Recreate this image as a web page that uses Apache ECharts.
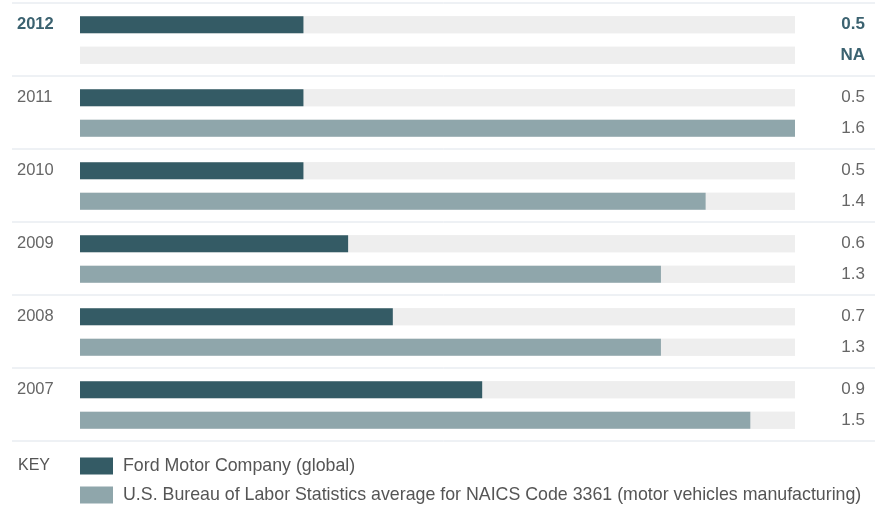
<!DOCTYPE html>
<html><head><meta charset="utf-8">
<script src="https://cdn.jsdelivr.net/npm/echarts@6/dist/echarts.min.js"></script>
<style>html,body{margin:0;padding:0;background:#fff}#c{width:875px;height:512px}</style>
</head><body><div id="c"></div>
<script>
var years = ['2012','2011','2010','2009','2008','2007'];
var ford = [0.5,0.5,0.5,0.6,0.7,0.9];
var bls = [null,1.6,1.4,1.3,1.3,1.5];
var fordName = 'Ford Motor Company (global)';
var blsName = 'U.S. Bureau of Labor Statistics average for NAICS Code 3361 (motor vehicles manufacturing)';

var FONT = 'Liberation Sans, Arial, sans-serif';
var GRAY = '#666666', TEAL = '#3b6270';
var C_FORD = '#345b65', C_BLS = '#8fa6ab', TRACK = '#eeeeee';
var step = 73, top0 = 9.5;

function fmt(v){ return v == null ? 'NA' : v.toFixed(1); }

var grids = [], xAxes = [], yAxes = [], series = [], graphics = [];
years.forEach(function(y, i){
  var hl = i === 0;
  var col = hl ? TEAL : GRAY, fw = hl ? 'bold' : 'normal';
  var tsL = {color: col, fontWeight: fw, align: 'left', fontFamily: FONT, fontSize: 16.5};
  var tsR = {color: col, fontWeight: fw, align: 'right', fontFamily: FONT, fontSize: 17};
  grids.push({left: 80, right: 80, top: top0 + step*i, height: 61, containLabel: false, outerBoundsMode: 'none'});
  xAxes.push({gridIndex: i, type: 'value', min: 0, max: 1.6, show: false});
  yAxes.push({gridIndex: i, type: 'category', inverse: true, data: [{value: y, textStyle: tsL}, ''],
    axisLine: {show: false}, axisTick: {show: false},
    axisLabel: {align: 'left', margin: 63, fontFamily: FONT, fontSize: 16.5, color: col, fontWeight: fw}});
  yAxes.push({gridIndex: i, type: 'category', inverse: true, position: 'right',
    data: [{value: fmt(ford[i]), textStyle: tsR}, {value: fmt(bls[i]), textStyle: tsR}],
    axisLine: {show: false}, axisTick: {show: false},
    axisLabel: {align: 'right', margin: 70, fontFamily: FONT, fontSize: 17, color: col, fontWeight: fw}});
  series.push({name: fordName, type: 'bar', xAxisIndex: i, yAxisIndex: 2*i, barWidth: 17, barGap: '-100%',
    showBackground: true, backgroundStyle: {color: TRACK}, itemStyle: {color: C_FORD}, silent: true,
    data: [ford[i], '-']});
  series.push({name: blsName, type: 'bar', xAxisIndex: i, yAxisIndex: 2*i, barWidth: 17, barGap: '-100%',
    showBackground: true, backgroundStyle: {color: TRACK}, itemStyle: {color: C_BLS}, silent: true,
    data: ['-', bls[i] == null ? '-' : bls[i]]});
});
for (var k = 0; k <= years.length; k++) {
  graphics.push({type: 'line', shape: {x1: 12, y1: 3 + step*k, x2: 875, y2: 3 + step*k},
    style: {stroke: '#dde3ea', lineWidth: 1}, silent: true});
}

var chart = echarts.init(document.getElementById('c'));
chart.setOption({
  animation: false,
  title: {text: 'KEY', left: 13, top: 453, textStyle: {fontFamily: FONT, fontSize: 16, fontWeight: 'normal', color: '#555'}},
  legend: {orient: 'vertical', left: 75, top: 452, itemWidth: 33, itemHeight: 17, itemGap: 11,
    icon: 'rect', selectedMode: false, data: [fordName, blsName],
    textStyle: {fontFamily: FONT, fontSize: 17.8, color: '#555', padding: [0, 0, 0, 5]}},
  grid: grids, xAxis: xAxes, yAxis: yAxes, series: series, graphic: graphics
});
</script></body></html>
